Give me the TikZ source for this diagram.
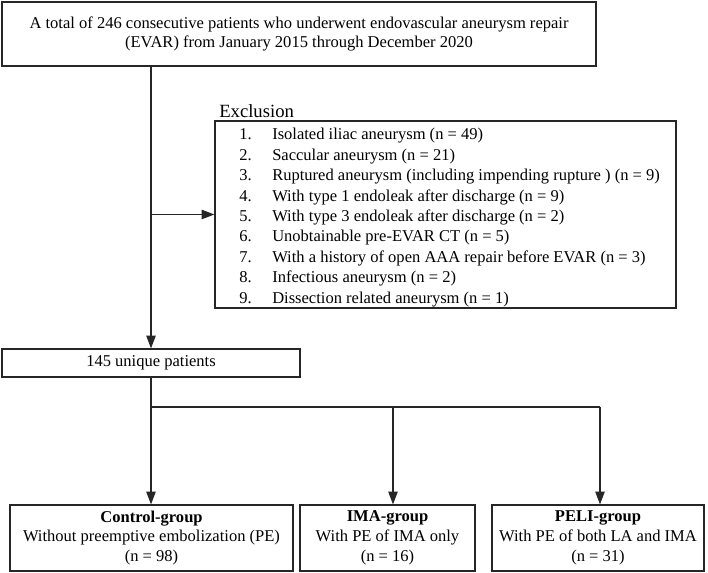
\documentclass[tikz,border=0pt]{standalone}
\usepackage{fontspec}
\setmainfont{Liberation Serif}
\usetikzlibrary{arrows.meta,calc}
\begin{document}
\begin{tikzpicture}[x=0.75pt,y=-0.75pt,
  box/.style={draw=black!85, line width=0.9pt, inner sep=0pt, align=center,
    font=\fontsize{12.4}{14.25}\selectfont},
  grp/.style={box, minimum height=49.5pt, font=\fontsize{12.4}{14.8}\selectfont},
  arr/.style={draw=black!85, line width=0.9pt, -{Triangle[length=9.5pt,width=7pt]}},
  ln/.style={draw=black!85, line width=0.9pt}]
\useasboundingbox (0,0) rectangle (708,573);

% top box
\node[box, minimum width=445.5pt, minimum height=48pt] (top) at (299,34)
  {A total of 246 consecutive patients who underwent endovascular aneurysm repair\\
   (EVAR) from January 2015 through December 2020};

% exclusion
\node[anchor=west, inner sep=0pt, font=\fontsize{14}{16}\selectfont] (exlab) at (219,111) {Exclusion};
\node[draw=black!85, line width=0.9pt, minimum width=345.75pt, minimum height=140.25pt, inner sep=0pt] (excl) at (445.5,214.5) {};
\node[anchor=west, inner sep=0pt, align=left, font=\fontsize{12.4}{15.3}\selectfont] (exitems) at (239,217.5)
  {\makebox[24.75pt][l]{1.}Isolated iliac aneurysm (n = 49)\\
   \makebox[24.75pt][l]{2.}Saccular aneurysm (n = 21)\\
   \makebox[24.75pt][l]{3.}Ruptured aneurysm (including impending rupture ) (n = 9)\\
   \makebox[24.75pt][l]{4.}With type 1 endoleak after discharge (n = 9)\\
   \makebox[24.75pt][l]{5.}With type 3 endoleak after discharge (n = 2)\\
   \makebox[24.75pt][l]{6.}Unobtainable pre-EVAR CT (n = 5)\\
   \makebox[24.75pt][l]{7.}With a history of open AAA repair before EVAR (n = 3)\\
   \makebox[24.75pt][l]{8.}Infectious aneurysm (n = 2)\\
   \makebox[24.75pt][l]{9.}Dissection related aneurysm (n = 1)};

% 145 box
\node[box, minimum width=223.5pt, minimum height=21pt] (p145) at (151,363) {145 unique patients};

% bottom boxes
\node[grp, minimum width=212.25pt] (ctrl) at (151.5,538)
  {\textbf{Control-group}\\Without preemptive embolization (PE)\\(n = 98)};
\node[grp, minimum width=131.25pt] (ima) at (387.5,538)
  {\textbf{IMA-group}\\With PE of IMA only\\(n = 16)};
\node[grp, minimum width=159pt] (peli) at (598,538)
  {\textbf{PELI-group}\\With PE of both LA and IMA\\(n = 31)};

% connectors
\draw[arr] (p145.north |- top.south) -- (p145.north);
\draw[arr] (p145.north |- excl.west) -- (excl.west);

\coordinate (split) at (151,407);
\coordinate (a2) at (393,407);
\coordinate (a3) at (600,407);
\draw[ln] (p145.south) -- (split) -- (a3);
\draw[arr] (split) -- (split |- ctrl.north);
\draw[arr] (a2) -- (a2 |- ima.north);
\draw[arr] (a3) -- (a3 |- peli.north);
\end{tikzpicture}
\end{document}
